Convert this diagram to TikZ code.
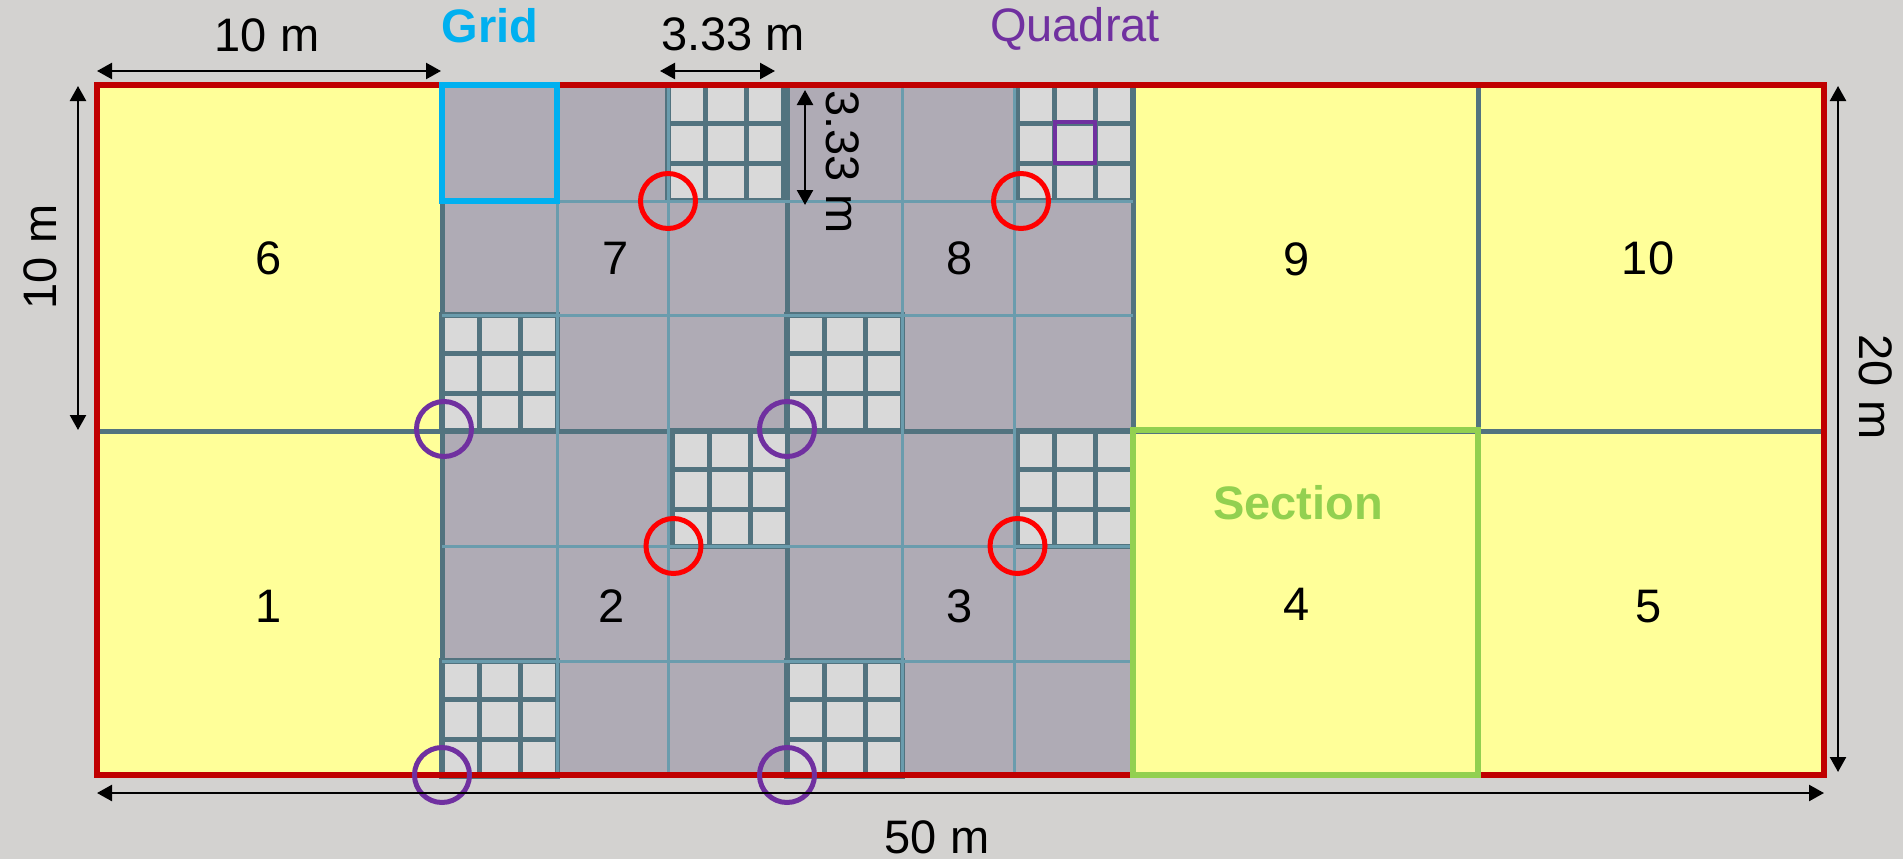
\documentclass[tikz,border=0pt]{standalone}
\usepackage{fontspec}
\setmainfont{Liberation Sans}
\usepackage{xcolor}
\usetikzlibrary{arrows.meta}
\definecolor{pagegray}{HTML}{D3D2D0}
\definecolor{plotyellow}{HTML}{FFFF99}
\definecolor{plotred}{HTML}{C00000}
\definecolor{cellgray}{HTML}{AFABB5}
\definecolor{quadgray}{HTML}{D9D9D9}
\definecolor{darkteal}{HTML}{52737F}
\definecolor{liteteal}{HTML}{6A9CAD}
\definecolor{gridblue}{HTML}{00B0F0}
\definecolor{quadpurple}{HTML}{7030A0}
\definecolor{secgreen}{HTML}{92D050}

\begin{document}
\begin{tikzpicture}[
  x=1pt, y=-1pt,
  lbl/.style={font=\fontsize{47}{50}\selectfont, inner sep=0pt},
  boldlbl/.style={font=\fontsize{47}{50}\selectfont\bfseries, inner sep=0pt, text=#1},
  dim/.style={{Triangle[length=15pt,width=16pt]}-{Triangle[length=15pt,width=16pt]}, line width=2.4pt},
  sec/.style={draw=darkteal, line width=5pt},
  fine/.style={draw=liteteal, line width=3pt},
  ring/.style={draw=#1, line width=5pt, circle, minimum size=55pt, inner sep=0pt}
]
  \useasboundingbox[fill=pagegray] (0,0) rectangle (1903,859);

  \fill[plotyellow] (97,85) rectangle (1824,775);
  \fill[cellgray] (442,85) rectangle (1133,775);

  \foreach \qx/\qy in {668/85, 1017/85, 442/315, 787/315, 672/431, 1017/431, 442/661, 787/661}{
    \fill[quadgray] (\qx,\qy) rectangle +(115.5,115.5);
    \draw[darkteal, line width=5pt] (\qx+37.5,\qy) -- +(0,115.5);
    \draw[darkteal, line width=5pt] (\qx+78,\qy) -- +(0,115.5);
    \draw[darkteal, line width=5pt] (\qx,\qy+38) -- +(115.5,0);
    \draw[darkteal, line width=5pt] (\qx,\qy+78) -- +(115.5,0);
    \draw[darkteal, line width=5.5pt] (\qx,\qy) rectangle +(115.5,115.5);
  }

  \draw[sec] (442,85) -- (442,775);
  \draw[sec] (787,85) -- (787,775);
  \draw[sec] (1133,85) -- (1133,775);
  \draw[sec] (1478,85) -- (1478,775);
  \draw[sec] (97,431) -- (1824,431);

  \foreach \gx in {557,668,902,1014}
    \draw[fine] (\gx,85) -- (\gx,775);
  \foreach \gy in {201,315,546,661}
    \draw[fine] (442,\gy) -- (1133,\gy);

  \draw[plotred, line width=5.5pt] (97,85) rectangle (1824,775);

  \draw[gridblue, line width=5.5pt] (442,85) rectangle (557,201);
  \draw[quadpurple, line width=4.7pt] (1055,122) rectangle (1095,163);
  \draw[secgreen, line width=5.5pt] (1133,430) rectangle (1478,775);

  \node[ring=red] (r1) at (668,201) {};
  \node[ring=red] (r2) at (1021,201) {};
  \node[ring=red] (r3) at (673.5,546) {};
  \node[ring=red] (r4) at (1017.5,546) {};
  \node[ring=quadpurple] (p1) at (444,429) {};
  \node[ring=quadpurple] (p2) at (787,429) {};
  \node[ring=quadpurple] (p3) at (442,775) {};
  \node[ring=quadpurple] (p4) at (787,775) {};

  \node[lbl] (s6) at (269,258) {6};
  \node[lbl] (s7) at (616,258) {7};
  \node[lbl] (s8) at (960,258) {8};
  \node[lbl] (s9) at (1297,259) {9};
  \node[lbl] (s10) at (1648,258) {10};
  \node[lbl] (s1) at (269,606) {1};
  \node[lbl] (s2) at (612,606) {2};
  \node[lbl] (s3) at (960,606) {3};
  \node[lbl] (s4) at (1297,604) {4};
  \node[lbl] (s5) at (1649,607) {5};

  \node[lbl] (ten) at (267,35) {10 m};
  \node[boldlbl=gridblue] (grid) at (490,26) {Grid};
  \node[lbl] (small) at (733,34) {3.33 m};
  \node[lbl, text=quadpurple] (quad) at (1075,29) {Quadrat};
  \node[boldlbl=secgreen] (section) at (1298,503) {Section};
  \node[lbl, rotate=90] (tenv) at (40,257) {10 m};
  \node[lbl, rotate=-90] (smallv) at (843,162) {3.33 m};
  \node[lbl, rotate=-90] (twenty) at (1876,387) {20 m};
  \node[lbl] (fifty) at (937,837) {50 m};

  \coordinate (a1) at (97,71);
  \coordinate (a2) at (441,71);
  \coordinate (b1) at (660,71);
  \coordinate (b2) at (775,71);
  \coordinate (c1) at (805,90);
  \coordinate (c2) at (805,205);
  \coordinate (d1) at (78,86);
  \coordinate (d2) at (78,430);
  \coordinate (e1) at (1838,86);
  \coordinate (e2) at (1838,772);
  \coordinate (f1) at (97,793);
  \coordinate (f2) at (1824,793);
  \draw[dim] (a1) -- (a2);
  \draw[dim] (b1) -- (b2);
  \draw[dim] (c1) -- (c2);
  \draw[dim] (d1) -- (d2);
  \draw[dim] (e1) -- (e2);
  \draw[dim] (f1) -- (f2);
\end{tikzpicture}
\end{document}
